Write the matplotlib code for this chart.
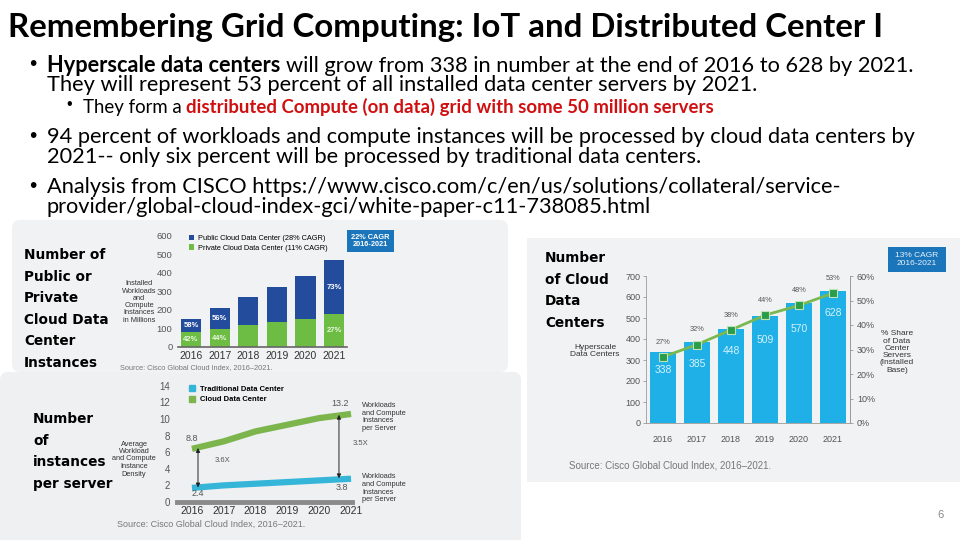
import matplotlib
matplotlib.use("Agg")
import matplotlib.pyplot as plt
from matplotlib.patches import FancyBboxPatch, Rectangle
from matplotlib.lines import Line2D

W, H = 960, 540

# ---- data ----
years = ["2016", "2017", "2018", "2019", "2020", "2021"]

# installed workloads (millions)
wl_private = [78, 93, 117, 133, 148, 176]
wl_public = [74, 116, 149, 189, 236, 290]
wl_public_pct = ["58%", "56%", "", "", "", "73%"]
wl_private_pct = ["42%", "44%", "", "", "", "27%"]

# hyperscale data centers
hs_count = [338, 385, 448, 509, 570, 628]
hs_share = [27, 32, 38, 44, 48, 53]

# workload density per server
dens_cloud = [6.4, 7.3, 8.5, 9.3, 10.1, 10.6]
dens_trad = [1.7, 2.0, 2.2, 2.4, 2.6, 2.8]

BODY = ["Lato", "Liberation Sans", "DejaVu Sans"]
CHART = ["Liberation Sans", "DejaVu Sans"]
LABEL = ["DejaVu Sans"]

DARK_BLUE = "#244c9c"
GREEN = "#6dbd45"
CYAN = "#1eb0e6"
LINE_GREEN = "#79b94f"
MARK_GREEN = "#2a9d4a"
TRAD = "#35b6d9"
CLOUD = "#7cb54c"
CAGR = "#1b75bb"
PANEL = "#f1f2f4"
GREY = "#555555"

fig = plt.figure(figsize=(W / 100, H / 100), dpi=100)
bg = fig.add_axes([0, 0, 1, 1])
bg.set_xlim(0, W)
bg.set_ylim(H, 0)
bg.axis("off")
renderer = fig.canvas.get_renderer()


def px_axes(left, top, right, bottom):
    return fig.add_axes([left / W, 1 - bottom / H, (right - left) / W, (bottom - top) / H])


def text_width(s, size, weight="normal", family=BODY):
    t = bg.text(0, 0, s, fontsize=size, fontweight=weight, family=family)
    w = t.get_window_extent(renderer).width
    t.remove()
    return w


def runs_width(runs, size):
    space = text_width("x x", size) - text_width("xx", size)
    total = 0
    for s, weight, _ in runs:
        total += text_width(s.strip(), size, weight)
        if s.endswith(" "):
            total += space
    return total


def fit_size(runs, target, base=14):
    return base * target / runs_width(runs, base)


def put_runs(x, y, runs, size):
    space = text_width("x x", size) - text_width("xx", size)
    for s, weight, color in runs:
        bg.text(x, y, s.strip(), fontsize=size, fontweight=weight, color=color,
                va="baseline", ha="left", family=BODY)
        x += text_width(s.strip(), size, weight)
        if s.endswith(" "):
            x += space


def bullet(x, y, size):
    bg.text(x, y, "\u2022", fontsize=size, family=CHART, ha="center", va="center")


def stacked_lines(x, y0, pitch, lines, size):
    for i, s in enumerate(lines):
        bg.text(x, y0 + i * pitch, s, fontsize=size, fontweight="bold", family=LABEL,
                va="center", ha="left", color="black")


# ---- panels ----
bg.add_patch(FancyBboxPatch((12, 220), 496, 152, boxstyle="round,pad=0,rounding_size=8",
                            fc=PANEL, ec="none"))
bg.add_patch(FancyBboxPatch((0, 372), 521, 175, boxstyle="round,pad=0,rounding_size=8",
                            fc="#eef0f2", ec="none"))
bg.add_patch(Rectangle((527, 238), 433, 244, fc=PANEL, ec="none"))

# ---- slide text ----
title = [("Remembering Grid Computing: IoT and Distributed Center I", "bold", "black")]
put_runs(8, 37, title, fit_size(title, 882))

line1 = [("Hyperscale data centers ", "bold", "black"),
         ("will grow from 338 in number at the end of 2016 to 628 by 2021.", "normal", "black")]
BS = fit_size(line1, 871)
sub = [("They form a ", "normal", "black"),
       ("distributed Compute (on data) grid with some 50 million servers", "bold", "#d01010")]
SS = fit_size(sub, 634)

for yc in [65, 136, 186]:
    bullet(33, yc, 15)
bullet(69, 105, 11.5)
put_runs(47, 72, line1, BS)
put_runs(47, 91, [("They will represent 53 percent of all installed data center servers by 2021.", "normal", "black")], BS)
put_runs(83, 113, sub, SS)
put_runs(47, 143, [("94 percent of workloads and compute instances will be processed by cloud data centers by", "normal", "black")], BS)
put_runs(47, 163, [("2021-- only six percent will be processed by traditional data centers.", "normal", "black")], BS)
put_runs(47, 193, [("Analysis from CISCO https://www.cisco.com/c/en/us/solutions/collateral/service-", "normal", "black")], BS)
put_runs(47, 213, [("provider/global-cloud-index-gci/white-paper-c11-738085.html", "normal", "black")], BS)

bg.text(940, 515, "6", fontsize=8, color="#888888", family=CHART, va="center", ha="center")

stacked_lines(24, 255, 21.6, ["Number of", "Public or", "Private", "Cloud Data", "Center", "Instances"], 9.8)
stacked_lines(33, 419, 21.6, ["Number", "of", "instances", "per server"], 9.8)
stacked_lines(545, 258, 21.6, ["Number", "of Cloud", "Data", "Centers"], 9.8)

x = list(range(len(years)))

# ---- chart 1: workloads stacked bars ----
ax1 = px_axes(178, 235.7, 347, 346.7)
ax1.patch.set_alpha(0)
b_pri = ax1.bar(x, wl_private, 0.7, color=GREEN, label="Private Cloud Data Center (11% CAGR)")
b_pub = ax1.bar(x, wl_public, 0.7, bottom=wl_private, color=DARK_BLUE,
                label="Public Cloud Data Center (28% CAGR)")
for i in x:
    if wl_public_pct[i]:
        ax1.text(i, wl_private[i] + wl_public[i] / 2, wl_public_pct[i], color="white",
                 fontsize=5.5, fontweight="bold", ha="center", va="center", family=CHART)
    if wl_private_pct[i]:
        ax1.text(i, wl_private[i] / 2, wl_private_pct[i], color="#e9f6df",
                 fontsize=5.5, fontweight="bold", ha="center", va="center", family=CHART)
ax1.set_xlim(-0.455, 5.45)
ax1.set_ylim(0, 600)
ax1.set_yticks(range(0, 601, 100))
ax1.set_xticks(x, years)
for s in ["top", "right", "left"]:
    ax1.spines[s].set_visible(False)
ax1.spines["bottom"].set_color("#666666")
ax1.spines["bottom"].set_linewidth(1.2)
ax1.tick_params(axis="y", length=0, labelsize=6.8, labelcolor=GREY, pad=4)
ax1.tick_params(axis="x", length=0, labelsize=7.5, labelcolor="#333333", pad=3)
for lbl in ax1.get_xticklabels() + ax1.get_yticklabels():
    lbl.set_family(CHART)
ax1.legend(handles=[b_pub, b_pri], loc="upper left", bbox_to_anchor=(185 / W, 1 - 231 / H),
           bbox_transform=fig.transFigure, frameon=False, handlelength=0.7,
           handleheight=0.7, handletextpad=0.6, labelspacing=0.35, borderpad=0,
           prop={"family": CHART, "size": 5.3})
bg.add_patch(Rectangle((347, 230), 47, 22, fc=CAGR, ec="none"))
bg.text(370.5, 241, "22% CAGR\n2016-2021", color="white", fontsize=5.3, fontweight="bold",
        ha="center", va="center", family=CHART, linespacing=1.1)
bg.text(139, 302, "Installed\nWorkloads\nand\nCompute\nInstances\nin Millions", fontsize=5.3,
        ha="center", va="center", family=CHART, color="#333333", linespacing=1.05)
bg.text(120, 368, "Source: Cisco Global Cloud Index, 2016\u20132021.", fontsize=5.3,
        color="#777777", family=CHART, va="center")

# ---- chart 2: hyperscale data centers ----
ax2 = px_axes(646, 276, 850, 423)
ax2.patch.set_alpha(0)
ax2.bar(x, hs_count, 0.74, color=CYAN)
ax2.set_xlim(-0.5, 5.5)
ax2.set_ylim(0, 700)
ax2.set_yticks(range(0, 701, 100))
ax2.set_xticks(x, years)
ax2.spines["top"].set_visible(False)
for s in ["left", "right", "bottom"]:
    ax2.spines[s].set_color("#999999")
    ax2.spines[s].set_linewidth(0.6)
ax2.tick_params(axis="y", length=2, width=0.6, color="#999999", labelsize=6.5, labelcolor=GREY, pad=2)
ax2.tick_params(axis="x", length=0, labelsize=6.5, labelcolor=GREY, pad=9)
label_drop = [18, 22, 22, 24, 26, 22]
for i in x:
    ax2.annotate(str(hs_count[i]), (i, hs_count[i]), xytext=(0, -label_drop[i] * 0.72),
                 textcoords="offset points", ha="center", va="center", fontsize=7.5,
                 color="#d6f1fb", family=CHART)
ax2r = ax2.twinx()
ax2r.set_ylim(0, 60)
ax2r.set_yticks(range(0, 61, 10), [f"{v}%" for v in range(0, 61, 10)])
ax2r.spines["top"].set_visible(False)
ax2r.spines["left"].set_visible(False)
ax2r.spines["bottom"].set_visible(False)
ax2r.spines["right"].set_color("#999999")
ax2r.spines["right"].set_linewidth(0.6)
ax2r.tick_params(axis="y", length=2, width=0.6, color="#999999", labelsize=6.5, labelcolor=GREY, pad=3)
ax2r.plot(x, hs_share, color=LINE_GREEN, lw=2, marker="s", ms=6, mfc=MARK_GREEN,
          mec="#bfe3b4", mew=0.8)
for i in x:
    ax2r.annotate(f"{hs_share[i]}%", (i, hs_share[i]), xytext=(0, 8), textcoords="offset points",
                  ha="center", va="bottom", fontsize=5.3, color=GREY, family=CHART)
for lbl in ax2.get_xticklabels() + ax2.get_yticklabels() + ax2r.get_yticklabels():
    lbl.set_family(CHART)
bg.add_patch(Rectangle((888, 247), 58, 25, fc=CAGR, ec="none"))
bg.text(917, 259.5, "13% CAGR\n2016-2021", color="#e8f2fa", fontsize=6, ha="center",
        va="center", family=CHART, linespacing=1.1)
bg.text(595, 351, "Hyperscale\nData Centers", fontsize=6, ha="center", va="center",
        family=CHART, color="#333333", linespacing=1.1)
bg.text(897, 352, "% Share\nof Data\nCenter\nServers\n(Installed\nBase)", fontsize=6,
        ha="center", va="center", family=CHART, color="#333333", linespacing=1.05)
bg.text(569, 466, "Source: Cisco Global Cloud Index, 2016\u20132021.", fontsize=7,
        color="#777777", family=CHART, va="center")

# ---- chart 3: density per server ----
ax3 = px_axes(177, 385.7, 352, 502)
ax3.patch.set_alpha(0)
ax3.plot(x, dens_trad, color=TRAD, lw=4.5, solid_capstyle="butt")
ax3.plot(x, dens_cloud, color=CLOUD, lw=4.5, solid_capstyle="butt")
ax3.set_xlim(-0.47, 5.03)
ax3.set_ylim(0, 14)
ax3.set_yticks(range(0, 15, 2))
ax3.set_xticks(x, years)
for s in ["top", "right", "left"]:
    ax3.spines[s].set_visible(False)
ax3.spines["bottom"].set_color("#8a8a8a")
ax3.spines["bottom"].set_linewidth(3.5)
ax3.tick_params(axis="y", length=0, labelsize=7, labelcolor=GREY, pad=5)
ax3.tick_params(axis="x", length=0, labelsize=7.5, labelcolor="#333333", pad=3)
for lbl in ax3.get_xticklabels() + ax3.get_yticklabels():
    lbl.set_family(CHART)
sq = dict(marker="s", ls="none", ms=4.5)
ax3.legend(handles=[Line2D([], [], color=TRAD, **sq), Line2D([], [], color=CLOUD, **sq)],
           labels=["Traditional Data Center", "Cloud Data Center"], loc="upper left",
           bbox_to_anchor=(185 / W, 1 - 382 / H), bbox_transform=fig.transFigure, frameon=False,
           handlelength=0.8, handletextpad=0.6, labelspacing=0.35, borderpad=0,
           prop={"family": CHART, "size": 5.5, "weight": "bold"})
arrow = dict(arrowstyle="<|-|>", color="#222222", lw=0.7, mutation_scale=6, shrinkA=0, shrinkB=0)
ax3.annotate("", xy=(0.19, dens_cloud[0] + 0.1), xytext=(0.19, dens_trad[0] + 0.05), arrowprops=arrow)
ax3.annotate("", xy=(4.62, dens_cloud[5] - 0.1), xytext=(4.62, dens_trad[5] + 0.05), arrowprops=arrow)
ax3.text(0.72, 5.0, "3.6X", fontsize=5.5, color=GREY, family=CHART, va="center")
ax3.text(5.06, 7.0, "3.5X", fontsize=5.5, color=GREY, family=CHART, va="center", clip_on=False)
ax3.text(0, 7.6, "8.8", fontsize=6.5, color=GREY, family=CHART, ha="center", va="center")
ax3.text(4.66, 11.9, "13.2", fontsize=6.5, color=GREY, family=CHART, ha="center", va="center")
ax3.text(0.19, 1.0, "2.4", fontsize=6.5, color=GREY, family=CHART, ha="center", va="center")
ax3.text(4.72, 1.8, "3.8", fontsize=6.5, color=GREY, family=CHART, ha="center", va="center")
wl_note = "Workloads\nand Compute\nInstances\nper Server"
bg.text(362, 402, wl_note, fontsize=5.3, family=CHART, color="#333333", va="top",
        linespacing=1.15)
bg.text(362, 473, wl_note, fontsize=5.3, family=CHART, color="#333333", va="top",
        linespacing=1.15)
bg.text(134, 459, "Average\nWorkload\nand Compute\nInstance\nDensity", fontsize=5.3, ha="center",
        va="center", family=CHART, color="#333333", linespacing=1.1)
bg.text(117, 524, "Source: Cisco Global Cloud Index, 2016\u20132021.", fontsize=6.5,
        color="#777777", family=CHART, va="center")

fig.savefig("out.png", dpi=100)
